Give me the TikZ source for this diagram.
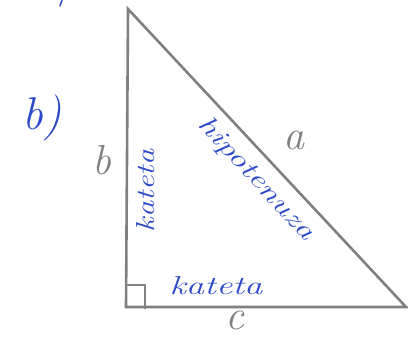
\documentclass[tikz,border=0pt]{standalone}
\usepackage{graphicx}
\definecolor{ink}{RGB}{45,75,200}
\definecolor{pencil}{RGB}{128,128,128}
\tikzset{
  side/.style={draw=pencil, line width=2.6pt, line cap=round, line join=miter},
  mark90/.style={draw=pencil, line width=1.8pt},
  blue label/.style={text=ink, font=\itshape\fontsize{26}{30}\selectfont, inner sep=0pt},
  gray label/.style={text=pencil, font=\itshape\fontsize{42}{46}\selectfont, inner sep=0pt},
}
\begin{document}
\begin{tikzpicture}[x=1pt,y=-1pt]
\useasboundingbox (0,0) rectangle (408,344);
\coordinate (T) at (128,9);
\coordinate (L) at (126,307);
\coordinate (R) at (406,307);
\draw[side] (T) -- (L) -- (R) -- cycle;
\coordinate (m1) at (126,285);
\coordinate (m2) at (145,285);
\coordinate (m3) at (145,309);
\draw[mark90] (m1) -- (m2) -- (m3);
\coordinate (s1) at (62,0);
\coordinate (s2) at (60,6);
\draw[ink, line width=1.5pt, line cap=round] (s1) -- (s2);
\node[text=ink, font=\itshape\fontsize{46}{50}\selectfont, inner sep=0pt] (part) at (42,118) {b)};
\node[gray label] (lb) at (102,160) {b};
\node[gray label] (la) at (294,140) {a};
\node[gray label] (lc) at (235,320) {c};
\node[blue label, rotate=-47] (hyp) at (256,179) {\scalebox{1.35}[1]{hipotenuza}};
\node[blue label, rotate=90] (kv) at (146,191) {\scalebox{1.25}[1]{kateta}};
\node[blue label] (kh) at (216,286) {\scalebox{1.4}[1]{kateta}};
\end{tikzpicture}
\end{document}
